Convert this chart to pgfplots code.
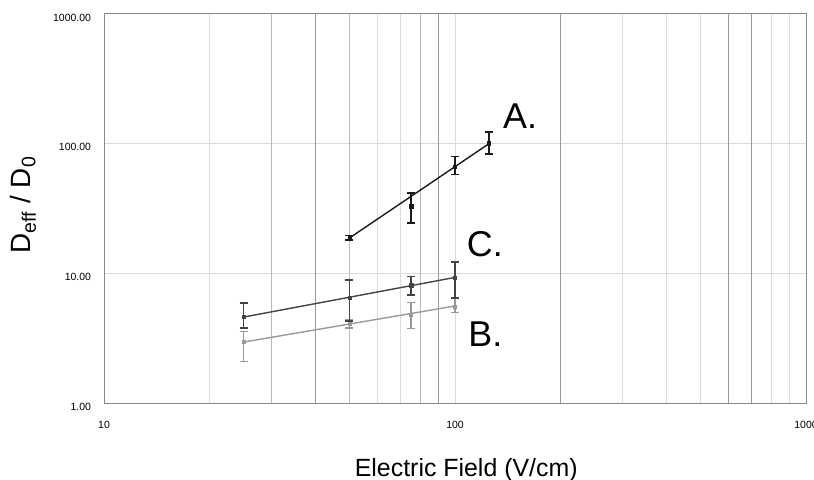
\documentclass[border=0pt]{standalone}
\usepackage{pgfplots}
\pgfplotsset{compat=1.18}
\usepackage{fontspec}
\setmainfont{Liberation Sans}

\definecolor{gridlt}{HTML}{DCDCDC}
\definecolor{gridmd}{HTML}{BBBBBB}
\definecolor{griddk}{HTML}{999999}
\definecolor{axisgray}{HTML}{8A8A8A}
\definecolor{serA}{HTML}{1A1A1A}
\definecolor{serC}{HTML}{444444}
\definecolor{serB}{HTML}{999999}

\begin{document}
\begin{tikzpicture}
\begin{axis}[
    scale only axis,
    width=702bp, height=389bp,
    xmode=log, ymode=log,
    xmin=10, xmax=1000, ymin=1, ymax=1000,
    xtick={10,100,1000}, xticklabels={10,100,1000},
    ytick={1,10,100,1000}, yticklabels={1.00,10.00,100.00,1000.00},
    minor xtick={}, minor ytick={},
    tick style={draw=none},
    major tick length=0pt, minor tick length=0pt,
    ymajorgrids=true,
    major grid style={color=gridlt, line width=1bp},
    axis line style={color=axisgray, line width=1bp},
    xticklabel style={font=\fontsize{10.5}{12}\selectfont, yshift=-15bp},
    yticklabel style={font=\fontsize{10.5}{12}\selectfont, xshift=-9.5bp, yshift=-3.5bp},
    xlabel={Electric Field (V/cm)},
    xlabel style={font=\fontsize{25}{30}\selectfont, at={([yshift=-73bp]rel axis cs:0.516,0)}, anchor=base},
    ylabel={D\textsubscript{eff} / D\textsubscript{0}},
    ylabel style={font=\fontsize{28}{32}\selectfont, at={([xshift=-81bp]rel axis cs:0,0.509)}, anchor=center},
    error bars/error mark options={rotate=90, line width=1.4bp, mark size=4bp},
    error bars/error bar style={line width=1.4bp},
]

% vertical grid lines, three shades
\pgfplotsinvokeforeach{20,60,70,100,300,400,500,800,900}{
  \draw[gridlt, line width=1bp] (axis cs:#1,1) -- (axis cs:#1,1000);}
\pgfplotsinvokeforeach{30,50,80}{
  \draw[gridmd, line width=1bp] (axis cs:#1,1) -- (axis cs:#1,1000);}
\pgfplotsinvokeforeach{40,90,200,600,700}{
  \draw[griddk, line width=1bp] (axis cs:#1,1) -- (axis cs:#1,1000);}

% trend lines
\addplot[serB, line width=1.4bp] coordinates {(25,2.95) (100,5.6)};
\addplot[serC, line width=1.4bp] coordinates {(25,4.6) (100,9.3)};
\addplot[serA, line width=1.4bp] coordinates {(50,18.7) (125,100)};

% B
\addplot[serB, only marks, mark=square*, mark size=1.5bp,
  error bars/.cd, y dir=both, y explicit]
  coordinates {
  (25,2.95) += (0,0.6) -= (0,0.85)
  (50,4.1) += (0,0.3) -= (0,0.3)
  (75,4.77) += (0,1.2) -= (0,1.0)
  (100,5.5) += (0,0.95) -= (0,0.5)
  };

% C
\addplot[serC, only marks, mark=square*, mark size=1.6bp,
  error bars/.cd, y dir=both, y explicit]
  coordinates {
  (25,4.6) += (0,1.3) -= (0,0.8)
  (50,6.45) += (0,2.45) -= (0,2.15)
  (75,8.1) += (0,1.4) -= (0,1.3)
  (100,9.2) += (0,3.0) -= (0,2.75)
  };

% A
\addplot[serA, only marks, mark=square*, mark size=1.6bp,
  error bars/.cd, y dir=both, y explicit]
  coordinates {
  (50,18.8) += (0,0.7) -= (0,0.7)
  (75,33) += (0,8.5) -= (0,8.6)
  (100,66) += (0,14) -= (0,8)
  (125,101) += (0,22) -= (0,18)
  };

\node[anchor=base west, font=\fontsize{36}{40}\selectfont, inner sep=0pt] at (axis cs:137,132) {A.};
\node[anchor=base west, font=\fontsize{36}{40}\selectfont, inner sep=0pt] at (axis cs:108,13.4) {C.};
\node[anchor=base west, font=\fontsize{36}{40}\selectfont, inner sep=0pt] at (axis cs:109,2.75) {B.};
\end{axis}
\pgfresetboundingbox
\path ([xshift=-104bp,yshift=-77bp]current axis.south west) rectangle ([xshift=8bp,yshift=14bp]current axis.north east);
\end{tikzpicture}
\end{document}
